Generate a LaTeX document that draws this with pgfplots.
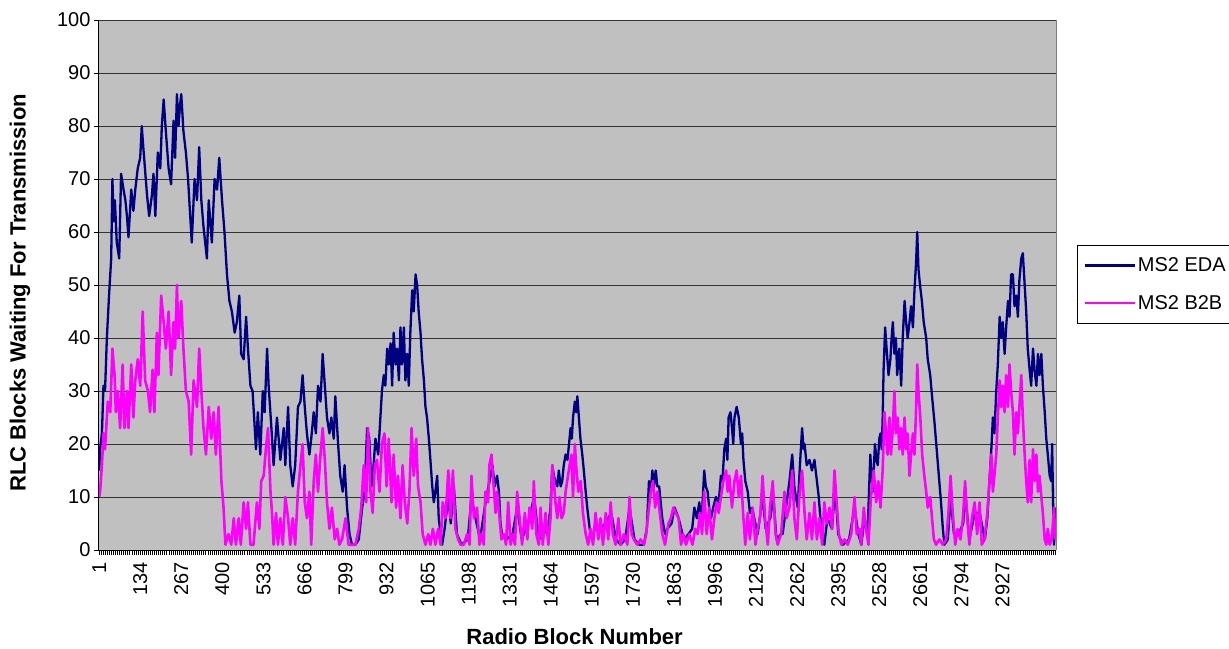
\documentclass[border=0pt]{standalone}
\usepackage{fontspec}
\setmainfont{Liberation Sans}
\usepackage{pgfplots}
\pgfplotsset{compat=1.18}
\definecolor{plotgray}{RGB}{192,192,192}
\definecolor{edanavy}{RGB}{0,0,128}
\definecolor{b2bmag}{RGB}{255,0,255}
\begin{document}
\begin{tikzpicture}
\path[use as bounding box] (0,0) rectangle (1229pt,648pt);
\begin{axis}[
  at={(99pt,98pt)}, anchor=south west,
  scale only axis, width=957pt, height=530pt,
  xmin=0.5, xmax=3100.5, ymin=0, ymax=100,
  axis lines*=left,
  axis line style={-, black, line width=1pt},
  axis background/.style={fill=plotgray},
  ytick={0,10,...,100},
  xtick={1,134,...,2927},
  minor xtick={1,7.65,...,3100},
  tick align=outside,
  major tick length=5pt, minor tick length=5pt,
  every tick/.style={black, line width=0.9pt},
  every minor tick/.style={black, line width=0.9pt},
  ymajorgrids,
  major grid style={black!80, line width=0.9pt},
  tick label style={font=\fontsize{20}{23}\selectfont},
  /pgf/number format/assume math mode=true,
  /pgf/number format/1000 sep={},
  xticklabel style={rotate=90, anchor=east},
  xticklabel shift=4pt,
  xlabel={\textbf{Radio Block Number}},
  ylabel={\textbf{RLC Blocks Waiting For Transmission}},
  label style={font=\fontsize{22}{25}\selectfont},
  xlabel style={at={(axis description cs:0.497,-0.164)}, anchor=center},
  ylabel style={at={(axis description cs:-0.0826,0.485)}, anchor=center},
  legend style={at={(axis description cs:1.022,0.5755)}, anchor=north west,
    draw=black, fill=white, font=\fontsize{20}{23}\selectfont,
    inner xsep=6pt, inner ysep=10.5pt, row sep=18pt,
    nodes={inner sep=2pt}},
  legend cell align=left,
  legend image code/.code={\draw[#1] (0pt,0pt) -- (50pt,0pt);},
  every axis plot/.append style={line join=round},
  after end axis/.code={\draw[black!50, line width=0.8pt] (rel axis cs:1,0) -- (rel axis cs:1,1);},
]
\addplot[edanavy, line width=2.3pt] coordinates {
(1,15) (4,19) (10,22) (15,31) (20,30) (26,40) (33,48) (40,55) (44,70) (48,62) (52,66) (58,58) (66,55) (72,71) (80,68) (86,66) (91,63) (96,59) (105,68) (112,64) (118,68) (126,72) (134,74) (139,80) (144,76) (148,73) (156,67) (163,63) (172,67) (177,71) (183,63) (191,75) (199,72) (204,80) (210,85) (217,79) (226,72) (234,69) (242,81) (247,74) (253,86) (258,80) (263,84) (267,86) (274,79) (282,75) (289,70) (296,63) (301,58) (310,70) (318,66) (325,76) (332,66) (339,61) (350,55) (356,66) (366,58) (375,70) (383,68) (390,74) (399,66) (407,60) (415,52) (423,47) (431,45) (440,41) (447,43) (455,48) (461,37) (469,36) (477,44) (483,38) (491,31) (498,30) (505,23) (509,19) (515,26) (523,18) (531,30) (537,26) (545,38) (550,31) (559,23) (566,16) (577,25) (588,17) (599,23) (604,16) (613,27) (620,16) (628,12) (636,16) (645,27) (653,28) (660,33) (667,27) (674,22) (682,18) (688,21) (696,26) (703,22) (710,31) (718,28) (725,37) (732,31) (739,25) (747,22) (753,25) (761,21) (766,29) (775,20) (782,14) (790,11) (796,16) (804,8) (812,3) (820,1) (831,1) (842,2) (853,8) (861,11) (869,23) (876,21) (883,12) (890,16) (896,21) (905,18) (912,25) (917,30) (923,33) (928,31) (934,38) (939,35) (945,39) (950,31) (955,41) (961,35) (966,38) (972,32) (977,42) (982,35) (988,42) (993,32) (999,37) (1004,31) (1009,41) (1015,49) (1020,45) (1026,52) (1031,50) (1036,45) (1042,41) (1047,36) (1053,32) (1058,27) (1063,25) (1069,21) (1074,17) (1080,12) (1085,9) (1090,11) (1096,14) (1101,6) (1107,3) (1112,1) (1120,4) (1132,10) (1140,5) (1150,12) (1160,3) (1175,1) (1195,2) (1207,10) (1220,6) (1235,2) (1250,8) (1262,12) (1269,14) (1275,16) (1282,12) (1290,14) (1296,11) (1301,5) (1306,3) (1320,2) (1340,3) (1355,8) (1370,2) (1390,5) (1410,10) (1425,2) (1440,3) (1455,4) (1463,8) (1469,16) (1474,14) (1479,13) (1485,12) (1490,15) (1496,12) (1501,13) (1506,16) (1512,18) (1518,17) (1523,20) (1528,23) (1532,21) (1536,25) (1542,28) (1546,26) (1550,29) (1555,25) (1560,21) (1566,18) (1571,15) (1577,11) (1582,8) (1590,4) (1598,2) (1610,5) (1625,4) (1640,5) (1660,7) (1675,2) (1690,1) (1705,2) (1719,8) (1735,2) (1750,1) (1765,1) (1775,4) (1782,13) (1788,11) (1793,15) (1798,12) (1804,15) (1809,12) (1815,12) (1820,9) (1825,6) (1834,3) (1842,4) (1855,5) (1865,8) (1878,6) (1895,2) (1910,3) (1922,4) (1929,8) (1937,6) (1945,9) (1952,5) (1961,15) (1966,12) (1972,11) (1977,8) (1983,6) (1990,8) (1999,10) (2008,9) (2015,14) (2020,13) (2026,19) (2032,21) (2036,17) (2040,25) (2046,26) (2051,23) (2055,20) (2059,25) (2066,27) (2073,25) (2080,20) (2084,22) (2088,17) (2094,13) (2102,11) (2109,7) (2116,8) (2123,6) (2134,3) (2150,10) (2160,4) (2175,6) (2185,10) (2195,2) (2210,3) (2215,3) (2226,8) (2237,13) (2246,18) (2253,12) (2258,10) (2264,8) (2271,16) (2278,23) (2283,19) (2286,20) (2293,16) (2302,17) (2310,15) (2318,17) (2326,13) (2332,10) (2340,4) (2350,1) (2360,6) (2375,4) (2385,12) (2395,3) (2410,1) (2430,2) (2448,8) (2460,3) (2470,1) (2480,6) (2490,3) (2499,18) (2503,14) (2507,11) (2514,20) (2519,17) (2523,16) (2528,21) (2532,22) (2536,19) (2539,25) (2542,34) (2547,42) (2553,37) (2558,33) (2564,36) (2568,40) (2572,43) (2577,37) (2582,40) (2586,33) (2593,38) (2599,31) (2604,40) (2610,47) (2615,43) (2620,40) (2626,43) (2631,46) (2637,42) (2642,49) (2647,54) (2651,60) (2655,53) (2660,50) (2666,47) (2672,43) (2680,40) (2685,36) (2693,33) (2699,29) (2707,24) (2714,19) (2721,14) (2728,9) (2734,4) (2739,1) (2750,2) (2759,10) (2770,3) (2785,3) (2800,5) (2806,11) (2820,2) (2837,7) (2853,7) (2870,2) (2878,6) (2883,11) (2891,19) (2896,25) (2901,22) (2907,30) (2912,35) (2918,44) (2923,40) (2928,43) (2934,37) (2939,42) (2945,47) (2950,44) (2955,52) (2961,52) (2966,46) (2972,48) (2977,44) (2982,51) (2988,55) (2993,56) (2999,50) (3004,45) (3009,38) (3015,34) (3020,31) (3026,38) (3031,34) (3037,31) (3042,37) (3047,33) (3053,37) (3058,31) (3064,26) (3069,21) (3074,18) (3080,14) (3085,13) (3088,20) (3091,9) (3094,1) (3098,8)
};
\addlegendentry{MS2 EDA}
\addplot[b2bmag, line width=2.6pt] coordinates {
(1,10) (4,11) (10,16) (15,22) (20,19) (29,28) (37,26) (44,38) (51,33) (55,26) (61,30) (69,23) (77,35) (83,23) (91,30) (96,23) (105,35) (112,25) (118,32) (126,36) (134,31) (142,45) (150,32) (159,30) (166,26) (174,34) (180,26) (188,41) (193,33) (202,48) (210,43) (217,38) (226,45) (234,33) (242,43) (247,38) (253,50) (258,40) (267,47) (274,38) (282,30) (291,28) (299,18) (307,32) (318,27) (325,38) (332,30) (339,23) (347,18) (356,27) (364,21) (372,26) (379,18) (388,27) (397,13) (404,8) (410,1) (420,3) (429,1) (437,6) (444,1) (453,6) (460,1) (469,9) (477,4) (483,9) (491,1) (501,1) (512,9) (520,4) (526,13) (534,14) (541,19) (548,23) (556,11) (561,7) (566,1) (574,7) (580,1) (588,6) (596,1) (604,10) (613,6) (620,1) (628,6) (636,1) (645,11) (653,16) (660,20) (667,9) (674,6) (682,11) (688,1) (696,13) (703,18) (710,11) (718,18) (725,23) (732,17) (739,9) (747,4) (755,8) (764,2) (772,4) (779,1) (788,2) (799,6) (809,1) (820,1) (831,1) (842,4) (850,8) (858,16) (866,9) (872,23) (880,11) (887,7) (894,16) (901,17) (909,11) (917,20) (925,22) (932,12) (939,21) (948,9) (955,18) (963,8) (969,14) (977,6) (984,16) (991,9) (999,5) (1006,11) (1013,23) (1020,14) (1028,21) (1034,12) (1042,9) (1049,3) (1058,1) (1067,3) (1074,1) (1082,4) (1090,1) (1099,4) (1107,1) (1114,9) (1123,6) (1132,15) (1139,6) (1147,15) (1155,4) (1164,2) (1172,1) (1182,1) (1193,3) (1201,1) (1207,14) (1215,6) (1225,8) (1233,1) (1239,3) (1247,1) (1252,11) (1261,9) (1265,16) (1272,18) (1279,12) (1285,7) (1290,11) (1298,6) (1304,2) (1312,3) (1319,1) (1326,9) (1334,1) (1341,3) (1348,1) (1355,11) (1363,6) (1371,1) (1380,7) (1388,2) (1395,8) (1404,4) (1409,13) (1417,3) (1425,1) (1431,8) (1438,1) (1447,7) (1456,1) (1463,6) (1469,16) (1474,13) (1479,9) (1485,6) (1492,10) (1499,6) (1506,7) (1512,11) (1517,13) (1525,16) (1531,18) (1536,10) (1542,20) (1546,16) (1553,11) (1561,13) (1568,7) (1577,3) (1585,1) (1593,4) (1601,1) (1609,7) (1618,2) (1625,6) (1633,1) (1642,7) (1650,2) (1658,9) (1665,3) (1674,1) (1683,6) (1690,1) (1701,3) (1712,1) (1719,10) (1726,3) (1733,2) (1744,1) (1755,2) (1766,1) (1773,3) (1782,8) (1788,11) (1795,13) (1802,8) (1809,11) (1817,7) (1825,3) (1834,1) (1845,5) (1853,6) (1861,8) (1869,7) (1878,6) (1886,1) (1893,3) (1902,1) (1913,3) (1923,1) (1932,4) (1940,3) (1947,7) (1954,3) (1961,11) (1969,3) (1977,8) (1986,2) (1994,6) (2001,9) (2008,7) (2015,10) (2023,13) (2032,15) (2037,11) (2042,14) (2051,8) (2059,13) (2066,15) (2073,10) (2080,14) (2088,6) (2094,1) (2102,7) (2109,2) (2118,8) (2127,1) (2134,4) (2142,6) (2150,14) (2158,6) (2167,1) (2174,8) (2183,13) (2192,3) (2199,1) (2210,3) (2221,11) (2228,6) (2237,8) (2246,15) (2253,6) (2261,2) (2269,10) (2278,15) (2286,7) (2293,2) (2302,7) (2310,2) (2318,9) (2326,2) (2334,6) (2343,1) (2350,9) (2358,5) (2367,8) (2375,4) (2383,15) (2390,9) (2397,3) (2405,1) (2415,2) (2426,1) (2437,3) (2448,10) (2455,3) (2464,4) (2469,1) (2478,8) (2485,4) (2493,1) (2501,10) (2510,15) (2518,9) (2525,13) (2532,8) (2539,15) (2545,26) (2550,22) (2555,18) (2561,25) (2566,18) (2572,23) (2577,30) (2582,22) (2588,25) (2593,19) (2599,23) (2604,18) (2610,25) (2615,19) (2620,22) (2626,14) (2631,18) (2637,22) (2642,18) (2647,26) (2651,35) (2655,30) (2661,25) (2667,18) (2674,14) (2680,11) (2685,8) (2693,10) (2699,6) (2705,2) (2712,1) (2723,2) (2734,1) (2745,2) (2752,7) (2759,14) (2766,7) (2774,1) (2782,4) (2791,2) (2799,6) (2806,13) (2813,6) (2820,1) (2828,6) (2837,9) (2845,3) (2853,9) (2860,1) (2869,2) (2878,7) (2885,13) (2891,18) (2896,11) (2901,14) (2907,18) (2912,25) (2918,32) (2923,27) (2928,31) (2934,26) (2939,33) (2945,27) (2950,35) (2955,30) (2961,26) (2966,18) (2972,26) (2977,22) (2982,27) (2988,33) (2993,25) (2999,18) (3004,13) (3009,9) (3015,17) (3020,9) (3026,19) (3031,13) (3037,18) (3042,11) (3047,14) (3053,10) (3058,7) (3064,2) (3069,1) (3074,4) (3080,1) (3087,2) (3094,8) (3098,2)
};
\addlegendentry{MS2 B2B}
\end{axis}
\end{tikzpicture}
\end{document}
